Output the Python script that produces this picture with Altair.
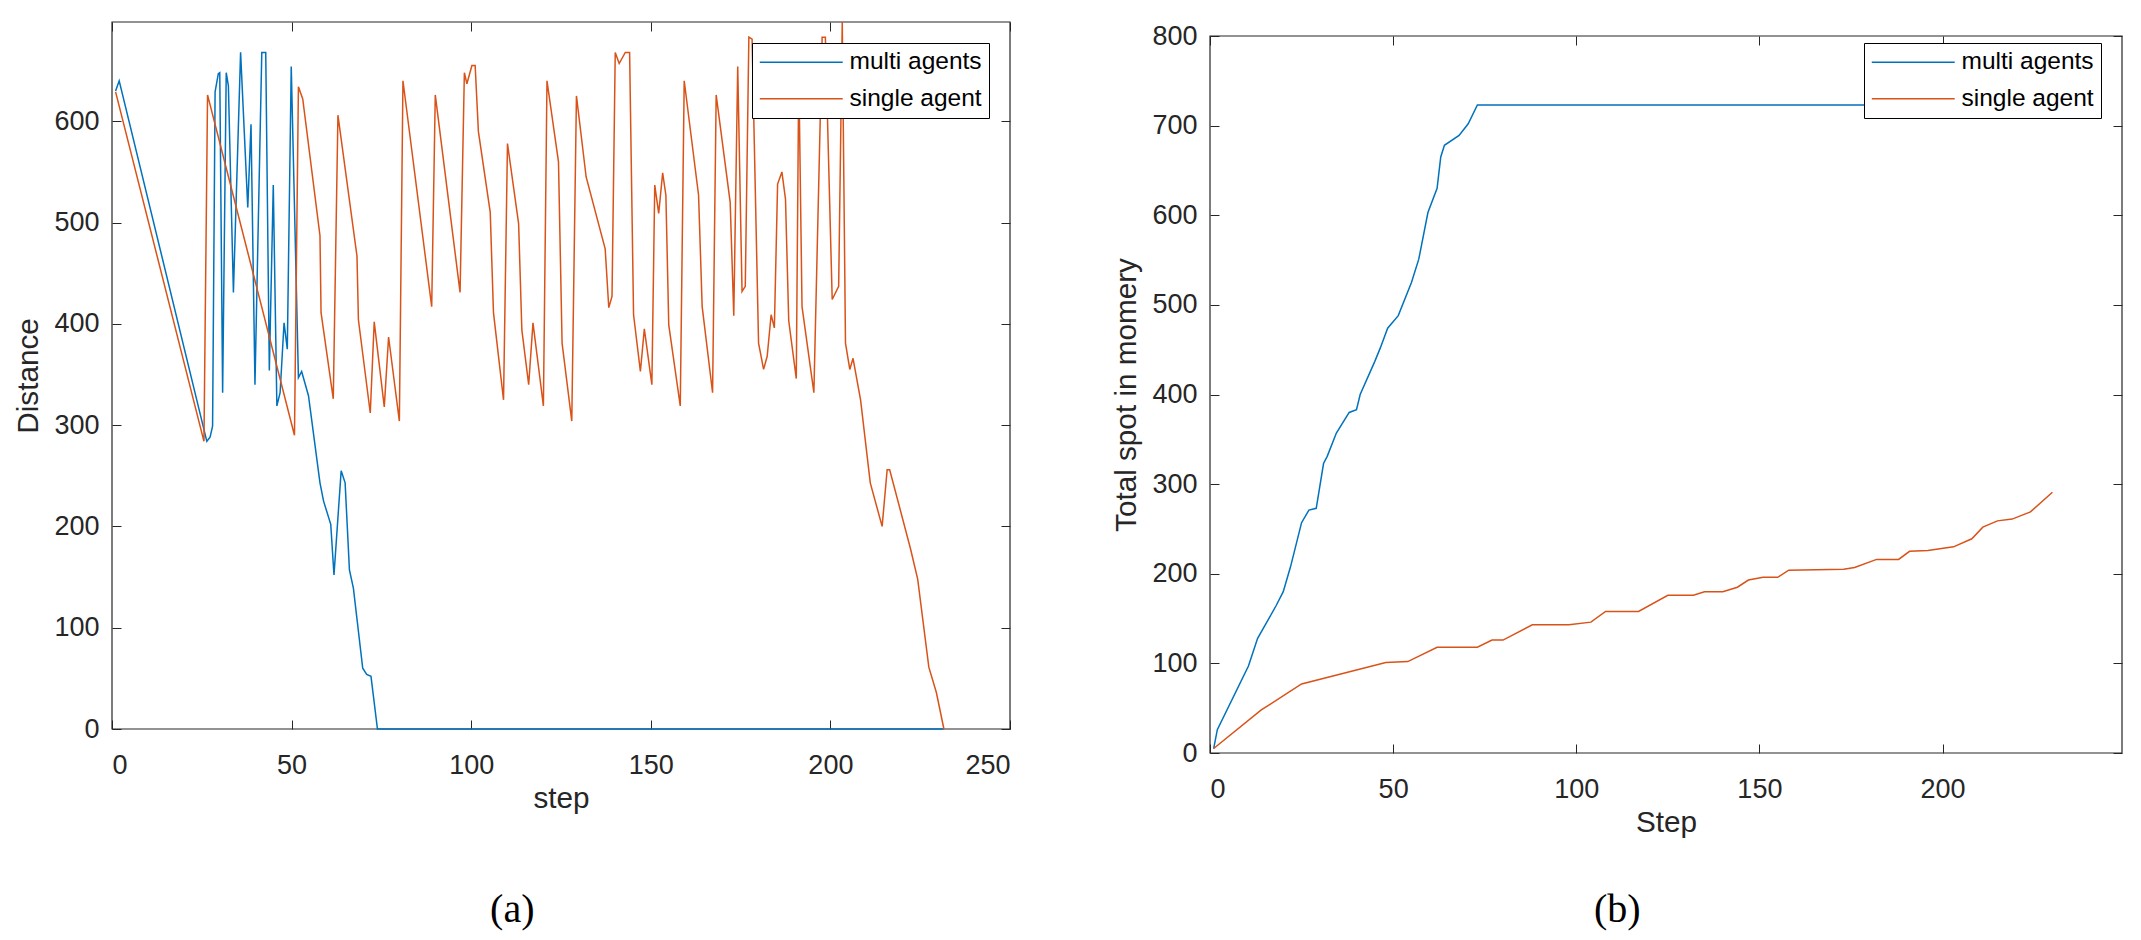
import altair as alt
import pandas as pd

FONT = "Liberation Sans"
INK = "#262626"
SERIES = ["multi agents", "single agent"]
COLORS = ["#0072BD", "#D95319"]

# (a) distance vs step
dist_multi_step = [1.0, 2.0, 26.4, 27.3, 28.0, 28.7, 29.6, 30.0, 30.8, 31.8, 32.4, 33.8,
                   35.8, 37.8, 38.7, 39.8, 41.7, 42.8, 43.8, 44.9, 45.9, 46.8, 47.9, 48.8,
                   49.9, 51.9, 52.8, 54.7, 57.9, 58.9, 60.9, 61.8, 63.8, 64.9, 66.1, 67.2,
                   69.8, 70.9, 72.1, 73.9, 231.5]
dist_multi_val = [630, 640, 284, 288, 299, 629, 647, 648, 332, 648, 635, 431,
                  668, 515, 597, 340, 668, 668, 354, 537, 319, 332, 401, 375,
                  654, 347, 353, 329, 243, 225, 202, 152, 255, 243, 157, 139,
                  60, 54, 52, 0, 0]
dist_single_step = [1.0, 25.6, 26.6, 50.8, 51.9, 53.1, 57.9, 58.2, 61.6, 62.9, 68.2, 68.6,
                    71.9, 73.0, 75.8, 77.0, 80.0, 81.0, 89.0, 90.0, 96.9, 98.1, 98.8, 100.2,
                    101.1, 102.0, 105.3, 106.2, 109.0, 110.1, 113.2, 114.1, 116.0, 117.2, 120.1, 121.1,
                    124.3, 125.3, 128.0, 129.3, 132.0, 137.3, 138.3, 139.2, 140.1, 141.2, 142.9, 144.1,
                    145.2, 147.1, 148.2, 150.3, 151.1, 152.2, 153.3, 154.2, 155.0, 158.2, 159.3, 163.3,
                    164.3, 167.2, 168.2, 172.1, 173.1, 174.2, 175.4, 176.3, 177.3, 178.2, 180.0, 181.4,
                    182.4, 183.5, 184.4, 185.3, 186.5, 187.5, 188.4, 190.5, 191.2, 192.1, 195.4, 197.7,
                    198.6, 200.5, 202.3, 203.3, 204.2, 205.4, 206.3, 208.4, 211.1, 214.4, 215.8, 216.5,
                    222.3, 224.3, 227.4, 229.5, 231.6]
dist_single_val = [629, 284, 626, 290, 634, 622, 487, 411, 326, 606, 467, 404,
                   312, 402, 318, 387, 304, 640, 417, 626, 431, 648, 637, 655,
                   655, 590, 510, 411, 325, 578, 499, 394, 340, 401, 319, 640,
                   560, 381, 304, 625, 545, 474, 416, 427, 668, 657, 668, 668,
                   409, 353, 395, 340, 537, 509, 549, 527, 399, 319, 640, 527,
                   417, 332, 626, 520, 408, 654, 432, 437, 683, 681, 381, 355,
                   368, 409, 396, 538, 550, 523, 403, 346, 650, 417, 332, 683,
                   683, 424, 437, 698, 381, 355, 366, 325, 243, 200, 256, 256,
                   178, 148, 61, 36, 0]

# (b) total spots kept in memory vs step
mem_multi_step = [1, 2, 10.5, 13, 18, 20, 22, 25, 27, 29, 31, 32, 34.5, 38, 40, 41, 45,
                  46.5, 48.5, 51.4, 55, 57, 59.5, 62, 63, 64, 68, 70.5, 73, 230]
mem_multi_val = [5, 26, 97, 128, 164, 180, 208, 257, 271, 273, 323, 331, 357, 380, 383, 400, 437,
                 452, 474, 488, 525, 551, 603, 630, 665, 678, 689, 702, 723, 723]
mem_single_step = [1, 14, 25, 48, 54, 62, 73, 77, 80, 88, 98, 104, 108, 117, 125, 132, 135,
                   140, 144, 147, 151, 155, 158, 173, 176, 182, 188, 191, 196, 203, 208, 211,
                   215, 219, 224, 230]
mem_single_val = [5, 48, 77, 101, 102, 118, 118, 126, 126, 143, 143, 146, 158, 158, 176, 176, 180,
                  180, 185, 193, 196, 196, 204, 205, 207, 216, 216, 225, 226, 230, 239, 252,
                  259, 261, 269, 291]

dist_x_ticks = [0, 50, 100, 150, 200, 250]
dist_y_ticks = [0, 100, 200, 300, 400, 500, 600]
mem_x_ticks = [0, 50, 100, 150, 200]
mem_y_ticks = [0, 100, 200, 300, 400, 500, 600, 700, 800]

TICK = 9
VIEW_H = 731


def panel(m_step, m_val, s_step, s_val, x_max, y_max, x_ticks, y_ticks,
          x_title, y_title, width, y_top, y_bottom, caption, cap_offset):
    df = pd.concat([
        pd.DataFrame({"step": m_step, "value": m_val, "series": SERIES[0]}),
        pd.DataFrame({"step": s_step, "value": s_val, "series": SERIES[1]}),
    ])
    xs = alt.Scale(domain=[0, x_max], nice=False, zero=False)
    ys = alt.Scale(domain=[0, y_max], range=[y_bottom, y_top], nice=False)

    # axes box with inward ticks on top/right
    box = pd.DataFrame({"x0": [0], "x1": [x_max], "y0": [0], "y1": [y_max]})
    frame = alt.Chart(box).mark_rect(fillOpacity=0, stroke=INK, strokeWidth=1.2).encode(
        x=alt.X("x0:Q", scale=xs, axis=alt.Axis(orient="top", values=x_ticks, labels=False, title=None,
                                                 offset=-y_top - TICK, tickSize=TICK, domain=False)),
        x2="x1:Q",
        y=alt.Y("y0:Q", scale=ys, axis=alt.Axis(orient="right", values=y_ticks, labels=False, title=None,
                                                 offset=-TICK, tickSize=TICK, domain=False)),
        y2="y1:Q",
    )

    lines = alt.Chart(df).mark_line(strokeWidth=1.5).encode(
        x=alt.X("step:Q", scale=xs, axis=alt.Axis(values=x_ticks, title=x_title, offset=-(VIEW_H - y_bottom) - TICK,
                                                   tickSize=TICK, domain=False, labelPadding=23, titlePadding=6)),
        y=alt.Y("value:Q", scale=ys, axis=alt.Axis(values=y_ticks, title=y_title, offset=-TICK, tickSize=TICK,
                                                    domain=False, labelPadding=13, titlePadding=10)),
        color=alt.Color("series:N", scale=alt.Scale(domain=SERIES, range=COLORS),
                        legend=alt.Legend(title=None, orient="top-right", offset=21,
                                          symbolType="M-4,0L4,0", symbolSize=430, symbolStrokeWidth=1.5,
                                          symbolOffset=30, labelOffset=36, labelFont=FONT, labelFontSize=24.5,
                                          labelColor="black", labelLimit=400, rowPadding=11.5, padding=7,
                                          strokeColor="black", fillColor="white")),
        detail="series:N",
    )

    return alt.layer(frame, lines).resolve_axis(x="independent", y="independent").properties(
        width=width, height=VIEW_H,
        title=alt.TitleParams(caption, orient="bottom", anchor="middle", frame="bounds",
                              font="Liberation Serif", fontSize=40, fontWeight="normal",
                              color="black", offset=cap_offset),
    )


left = panel(dist_multi_step, dist_multi_val, dist_single_step, dist_single_val, 250, 698,
             dist_x_ticks, dist_y_ticks, "step", "Distance", 898, 0, 707, "(a)", 77)
right = panel(mem_multi_step, mem_multi_val, mem_single_step, mem_single_val, 249, 800,
              mem_x_ticks, mem_y_ticks, "Step", "Total spot in momery", 912, 14, 731, "(b)", 53)

chart = alt.hconcat(left, right, spacing=100).resolve_scale(color="independent").resolve_legend(
    color="independent"
).properties(
    padding={"left": 5, "top": 11, "right": 5, "bottom": 5}, background="white"
).configure_view(stroke=None).configure_axis(
    grid=False, labelFont=FONT, labelFontSize=27, labelColor=INK, titleFont=FONT,
    titleFontSize=29.7, titleFontWeight="normal", titleColor=INK, tickColor=INK, tickWidth=1,
)

chart.save("out.html", embed_options={"renderer": "svg", "actions": False})
